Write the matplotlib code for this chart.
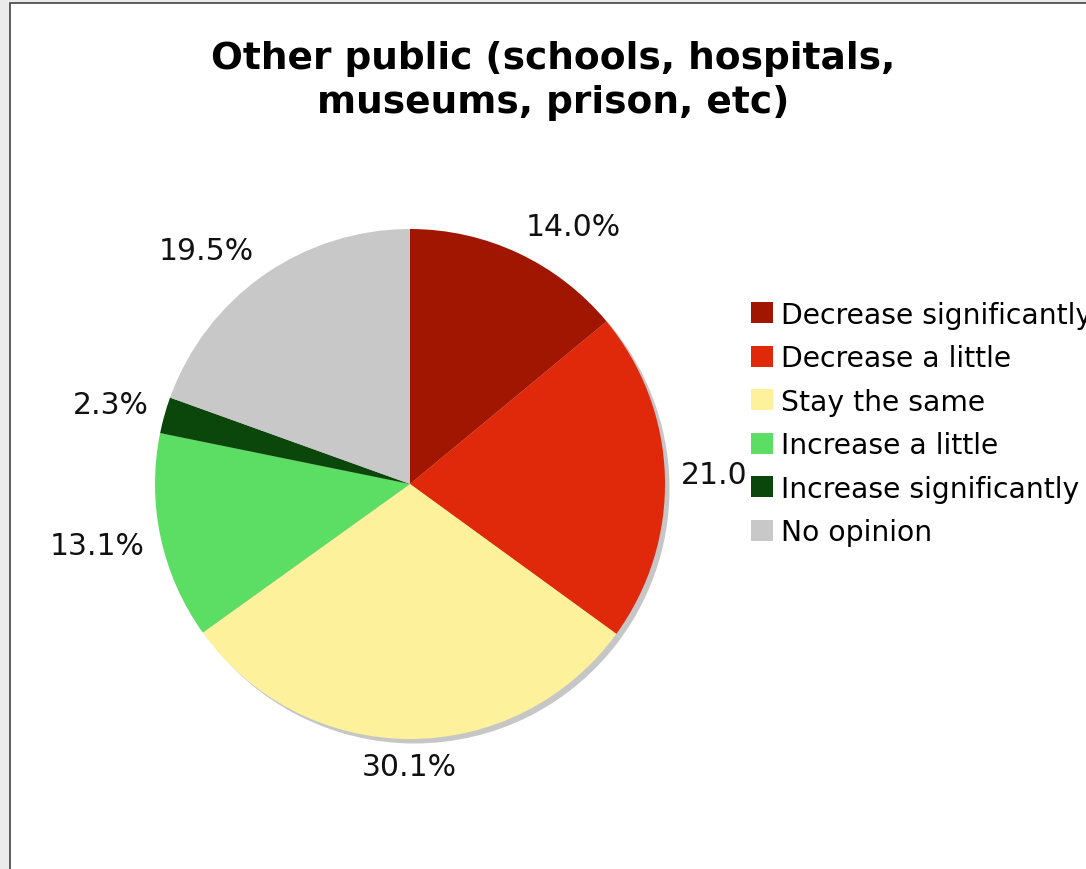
import numpy as np
import matplotlib
matplotlib.use('Agg')
import matplotlib.pyplot as plt
from matplotlib.patches import Rectangle

title = 'Other public (schools, hospitals,\nmuseums, prison, etc)'
categories = ['Decrease significantly', 'Decrease a little', 'Stay the same',
              'Increase a little', 'Increase significantly', 'No opinion']
values = [14.0, 21.0, 30.1, 13.1, 2.3, 19.5]
colors = ['#a01600', '#e0280a', '#fdf29b', '#5cdd64', '#0b470b', '#c8c8c8']

plt.rcParams['font.family'] = ['DejaVu Sans']

fig = plt.figure(figsize=(10.86, 8.7), dpi=100)
fig.patch.set_facecolor('#ebebeb')

# white panel with a thin dark border at left/top
fig.patches.append(Rectangle((10 / 1086, -0.01), 1.0, 1 - 4 / 870 + 0.01,
                             transform=fig.transFigure, facecolor='white',
                             edgecolor='#444444', linewidth=1.2, zorder=-1))

# axes sized so 1 data unit = 255 px, centred at (410, 485)
L = 1.5
px = 255
w = 2 * L * px
ax = fig.add_axes([(410 - w / 2) / 1086, (870 - 485 - w / 2) / 870, w / 1086, w / 870])

# shadow
sh = 4.5 / px
ax.pie(values, colors=['#c6c6c6'] * len(values), startangle=90, counterclock=False,
       radius=1.0, center=(sh, -sh), frame=True,
       wedgeprops=dict(linewidth=0))
wedges, _ = ax.pie(values, colors=colors, startangle=90, counterclock=False,
                   radius=1.0, center=(0, 0), frame=True,
                   wedgeprops=dict(linewidth=0))
ax.set_xlim(-L, L)
ax.set_ylim(-L, L)
ax.set_aspect('equal')
ax.axis('off')

# percentage labels just outside the rim
rg = 271 / px
hh = 12 / px
for wdg, v in zip(wedges, values):
    th = np.deg2rad((wdg.theta1 + wdg.theta2) / 2)
    c, s = np.cos(th), np.sin(th)
    ha = 'left' if c > 0.3 else ('right' if c < -0.3 else 'center')
    x = rg * c
    y = rg * s + hh * np.clip(2 * s, -1, 1)
    ax.text(x, y, f'{v:.1f}%', ha=ha, va='center', fontsize=21.5, color='#111111')

fig.text(553 / 1086, 1 - 81 / 870, title, ha='center', va='center',
         fontsize=27, fontweight='bold', linespacing=1.28)

leg = fig.legend(wedges, categories, loc='upper left',
                 bbox_to_anchor=(745 / 1086, 1 - 296 / 870),
                 fontsize=20.3, frameon=True, facecolor='white', edgecolor='white',
                 framealpha=1, fancybox=False, borderpad=0.2,
                 handlelength=0.78, handleheight=0.78, handletextpad=0.28,
                 labelspacing=0.55, borderaxespad=0)
leg.set_zorder(10)

fig.savefig('out.png', dpi=100, facecolor=fig.get_facecolor())
